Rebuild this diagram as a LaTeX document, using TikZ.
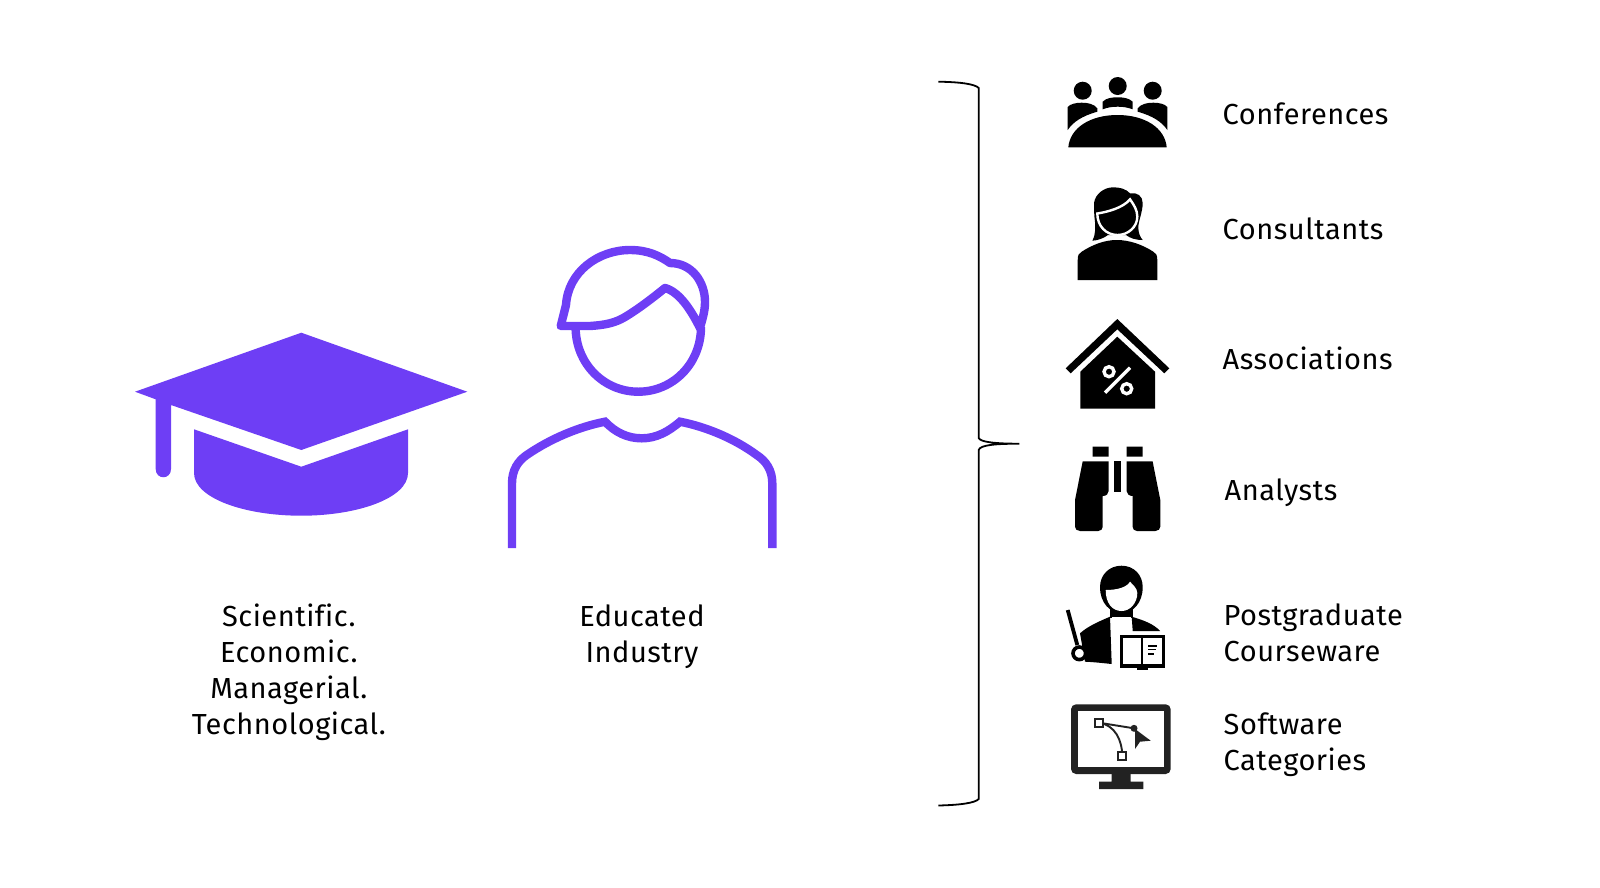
\documentclass[tikz,border=0pt]{standalone}
\usepackage{fontspec}
\setmainfont{Fira Sans}[Ligatures=NoCommon, LetterSpace=1.8]
\definecolor{capviolet}{HTML}{6E3EF5}
\definecolor{screengray}{HTML}{222222}
\tikzset{
  itemlabel/.style={anchor=west, inner sep=0pt, align=left, font=\fontsize{29}{36}\selectfont},
  mainlabel/.style={anchor=center, inner sep=0pt, align=center, font=\fontsize{29}{36}\selectfont},
  personline/.style={draw=capviolet, line width=8.4pt}
}
\begin{document}
\begin{tikzpicture}[x=1pt, y=-1pt]
  \useasboundingbox (0,0) rectangle (1600,887);

  % --- 1. graduation cap ---
  \fill[capviolet] (301.3,332.7) -- (467.3,391.7) -- (301.3,450) -- (171,405) -- (171,469)
    .. controls (171,480) and (155.7,480) .. (155.7,469) -- (155.7,399.3) -- (135,391.7) -- cycle;
  \fill[capviolet] (194,429.3) -- (301.3,466.7) -- (408,429.3) -- (408,473)
    .. controls (408,498) and (358,515.7) .. (301.3,515.7)
    .. controls (244,515.7) and (194,498) .. (194,473) -- cycle;

  % --- 2. person outline ---
  % head
  \draw[personline] (575.6,327) .. controls (575.6,363.6) and (603.7,391.7) .. (638.3,391.7)
    .. controls (672.9,391.7) and (701,363.6) .. (701,327);
  % hair
  \draw[personline, line join=round] (560.7,326) -- (566,305) .. controls (568,272) and (598,250) .. (630,250)
    .. controls (648,250) and (660,256) .. (670,263) .. controls (692,263) and (705,282) .. (705,302)
    .. controls (705,312) and (702,320) .. (700,328)
    .. controls (692,312) and (680,292) .. (665,288)
    .. controls (655,296) and (640,308) .. (625,317)
    .. controls (615,323) and (605,325) .. (590,326) -- cycle;
  % shoulders
  \draw[personline] (512,548) -- (512,483.3) .. controls (512,470) and (518,461) .. (526.7,455)
    .. controls (550,439) and (578,427) .. (605,421.7)
    .. controls (615,432) and (627,438.3) .. (641.7,438.3)
    .. controls (656,438.3) and (668,432) .. (680,421.7)
    .. controls (707,427) and (735,439) .. (756.7,455)
    .. controls (766,461) and (772.3,470) .. (772.3,483.3) -- (772.3,548);

  % --- 3. left labels ---
  \node[mainlabel] (fields) at (288.8,672) {Scientific.\\Economic.\\Managerial.\\Technological.};
  \node[mainlabel] (educated) at (642,637) {Educated\\Industry};

  % --- 4. brace ---
  \draw[line width=1.8pt] (938.3,81.7) .. controls (960,82) and (975,84) .. (978.7,88) -- (978.7,438)
    .. controls (980,442) and (995,443.7) .. (1019.3,443.7)
    .. controls (995,443.7) and (980,445) .. (978.7,450) -- (978.7,799)
    .. controls (975,803) and (960,805) .. (938.3,805.5);

  % --- 5. table with people ---
  \fill (1082.7,90.7) circle (9) (1117.7,86) circle (9) (1152.7,90.7) circle (9);
  \fill (1068.3,147.3) .. controls (1070,128) and (1090,115) .. (1117.5,115)
    .. controls (1145,115) and (1165,128) .. (1166.7,147.3) -- cycle;
  \fill (1102.7,109.3) -- (1102.7,101.7) .. controls (1106,98) and (1112,97.3) .. (1117.7,97.3)
    .. controls (1123,97.3) and (1129,98) .. (1132.7,101.7) -- (1132.7,109.3)
    .. controls (1128,107.5) and (1123,106.7) .. (1117.7,106.7)
    .. controls (1112,106.7) and (1107,107.5) .. (1102.7,109.3) -- cycle;
  \fill (1067.7,130) -- (1067.7,107) .. controls (1070,104) and (1076,102.7) .. (1081.7,102.7)
    .. controls (1088,102.7) and (1094,104) .. (1097.3,108.3) -- (1097.3,111.7)
    .. controls (1082,116) and (1073,122) .. (1067.7,130) -- cycle;
  \fill (1167.3,130) -- (1167.3,107) .. controls (1165,104) and (1159,102.7) .. (1153.3,102.7)
    .. controls (1147,102.7) and (1141,104) .. (1137.7,108.3) -- (1137.7,111.7)
    .. controls (1153,116) and (1162,122) .. (1167.3,130) -- cycle;
  \node[itemlabel] (conferences) at (1222.5,114) {Conferences};

  % --- 6. woman ---
  \fill (1077.7,280) -- (1077.7,260) .. controls (1077.7,255) and (1079,253) .. (1081.7,251.7)
    .. controls (1092,245) and (1104,240) .. (1116.7,240)
    .. controls (1130,240) and (1143,245) .. (1153.3,251.7)
    .. controls (1156,253) and (1157.3,255) .. (1157.3,260) -- (1157.3,280) -- cycle;
  \fill (1092.3,240.7) .. controls (1096,234) and (1095,228) .. (1095,222)
    .. controls (1094,215) and (1094,208) .. (1094,203.3)
    .. controls (1095,194) and (1104,187.3) .. (1113.3,187.3)
    .. controls (1120,187.3) and (1126,189) .. (1130,193.3)
    .. controls (1137,192) and (1142.7,196) .. (1142.7,203)
    .. controls (1142.7,212) and (1138,222) .. (1138.3,228)
    .. controls (1138.5,233) and (1140,237) .. (1142.7,240)
    .. controls (1135,240) and (1130,238) .. (1126,235) -- (1108,235)
    .. controls (1104,238) and (1098,240.5) .. (1092.3,240.7) -- cycle;
  \draw[white, line width=2.4pt, fill=black] (1097.3,213.5) .. controls (1107,212) and (1123,208) .. (1130,199.3)
    .. controls (1134,205) and (1137.3,210) .. (1137.3,216.7)
    .. controls (1137.3,227) and (1128,235) .. (1117.5,235)
    .. controls (1106,235) and (1097.3,226) .. (1097.3,213.5) -- cycle;
  \node[itemlabel] (consultants) at (1222.5,229) {Consultants};

  % --- 7. house ---
  \fill (1117.3,319) -- (1169.3,368.3) -- (1164.3,373.3) -- (1117.3,329.3) -- (1070.7,373.3) -- (1065.7,368.3) -- cycle;
  \fill (1080.3,371.7) -- (1117.3,336.7) -- (1155,371.7) -- (1155,408.7) -- (1080.3,408.7) -- cycle;
  \draw[white, line width=3.4pt] (1109,371.7) circle (5) (1126.7,388.7) circle (5);
  \draw[white, line width=3.4pt] (1130,367.7) -- (1105,392.7);
  \node[itemlabel] (associations) at (1222.5,358.5) {Associations};

  % --- 8. binoculars ---
  \fill (1092.7,446.7) rectangle (1108.7,456.7) (1126.7,446.7) rectangle (1142.7,456.7);
  \fill (1114,461.3) rectangle (1121.3,491.7);
  \fill (1082.7,461.3) -- (1108.7,461.3) -- (1108.7,491) .. controls (1108.7,494) and (1106,496) .. (1102.7,496)
    -- (1102.7,526.7) .. controls (1102.7,529) and (1101,531) .. (1098.3,531) -- (1080,531)
    .. controls (1077,531) and (1075,529) .. (1075,526.7) -- (1075,500) -- cycle;
  \fill (1152.6,461.3) -- (1126.6,461.3) -- (1126.6,491) .. controls (1126.6,494) and (1129.3,496) .. (1132.6,496)
    -- (1132.6,526.7) .. controls (1132.6,529) and (1134.3,531) .. (1137,531) -- (1155.3,531)
    .. controls (1158.3,531) and (1160.3,529) .. (1160.3,526.7) -- (1160.3,500) -- cycle;
  \node[itemlabel] (analysts) at (1224.5,493) {Analysts};

  % --- 9. lecturer with book ---
  \draw[line width=3.8pt] (1067.7,610) -- (1077.3,645);
  \fill (1110,605) rectangle (1133,618);
  \fill (1080,633.3) .. controls (1088,626) and (1100,621) .. (1110,616.7) -- (1111.7,664)
    .. controls (1102,663) and (1093,662) .. (1085,661.7) -- cycle;
  \fill (1131.7,616.7) .. controls (1143,620) and (1154,624) .. (1160,631) -- (1132.7,631) -- cycle;
  \fill[white] (1112,617) rectangle (1131,622);
  \draw[line width=3.6pt, fill=white] (1079.3,653.3) circle (6.3);
  \fill (1121.5,565.7) .. controls (1134,565.7) and (1142.7,575) .. (1142.7,587)
    .. controls (1142.7,603) and (1133,613) .. (1121.5,613)
    .. controls (1110,613) and (1100,603) .. (1100,587)
    .. controls (1100,575) and (1109,565.7) .. (1121.5,565.7) -- cycle;
  \fill[white] (1105.7,590) .. controls (1118,590) and (1127,587) .. (1130,581.7)
    .. controls (1133,585) and (1137,588) .. (1137.3,593)
    .. controls (1137.3,603) and (1130,611) .. (1121.7,611)
    .. controls (1112,611) and (1105.7,603) .. (1105.7,590) -- cycle;
  \draw[line width=3.2pt, fill=white] (1121.5,636.5) rectangle (1163.5,666);
  \draw[line width=2.4pt] (1141.7,636.5) -- (1141.7,666);
  \fill (1137,667) rectangle (1148,670);
  \draw[line width=1.8pt] (1148.3,645.7) -- (1157.3,645.7) (1148.3,649.5) -- (1156,649.5) (1148.3,653.7) -- (1154,653.7);
  \node[itemlabel] (courseware) at (1223.5,633) {Postgraduate\\Courseware};

  % --- 10. monitor ---
  \fill[screengray, rounded corners=5pt] (1071,704.3) rectangle (1170.7,774);
  \fill[white] (1077.7,711.3) rectangle (1164,767.3);
  \fill[screengray] (1111.7,774) rectangle (1130.7,781.7) (1099,781.7) rectangle (1143.3,789);
  \draw[screengray, line width=1.9pt] (1099,722.7) -- (1134,728.3);
  \draw[screengray, line width=1.9pt] (1099,722.7) .. controls (1115,725) and (1122,740) .. (1122.3,756);
  \draw[screengray, line width=2.2pt, fill=white] (1095,718.7) rectangle (1103,726.7) (1118.3,752) rectangle (1126.3,760);
  \fill[screengray] (1134,728.3) circle (3.5);
  \fill[screengray] (1135,729) -- (1150.7,740.7) -- (1140,741.7) -- (1135,749) -- cycle;
  \node[itemlabel] (software) at (1223.5,744.5) {Software\\Categories};

\end{tikzpicture}
\end{document}
